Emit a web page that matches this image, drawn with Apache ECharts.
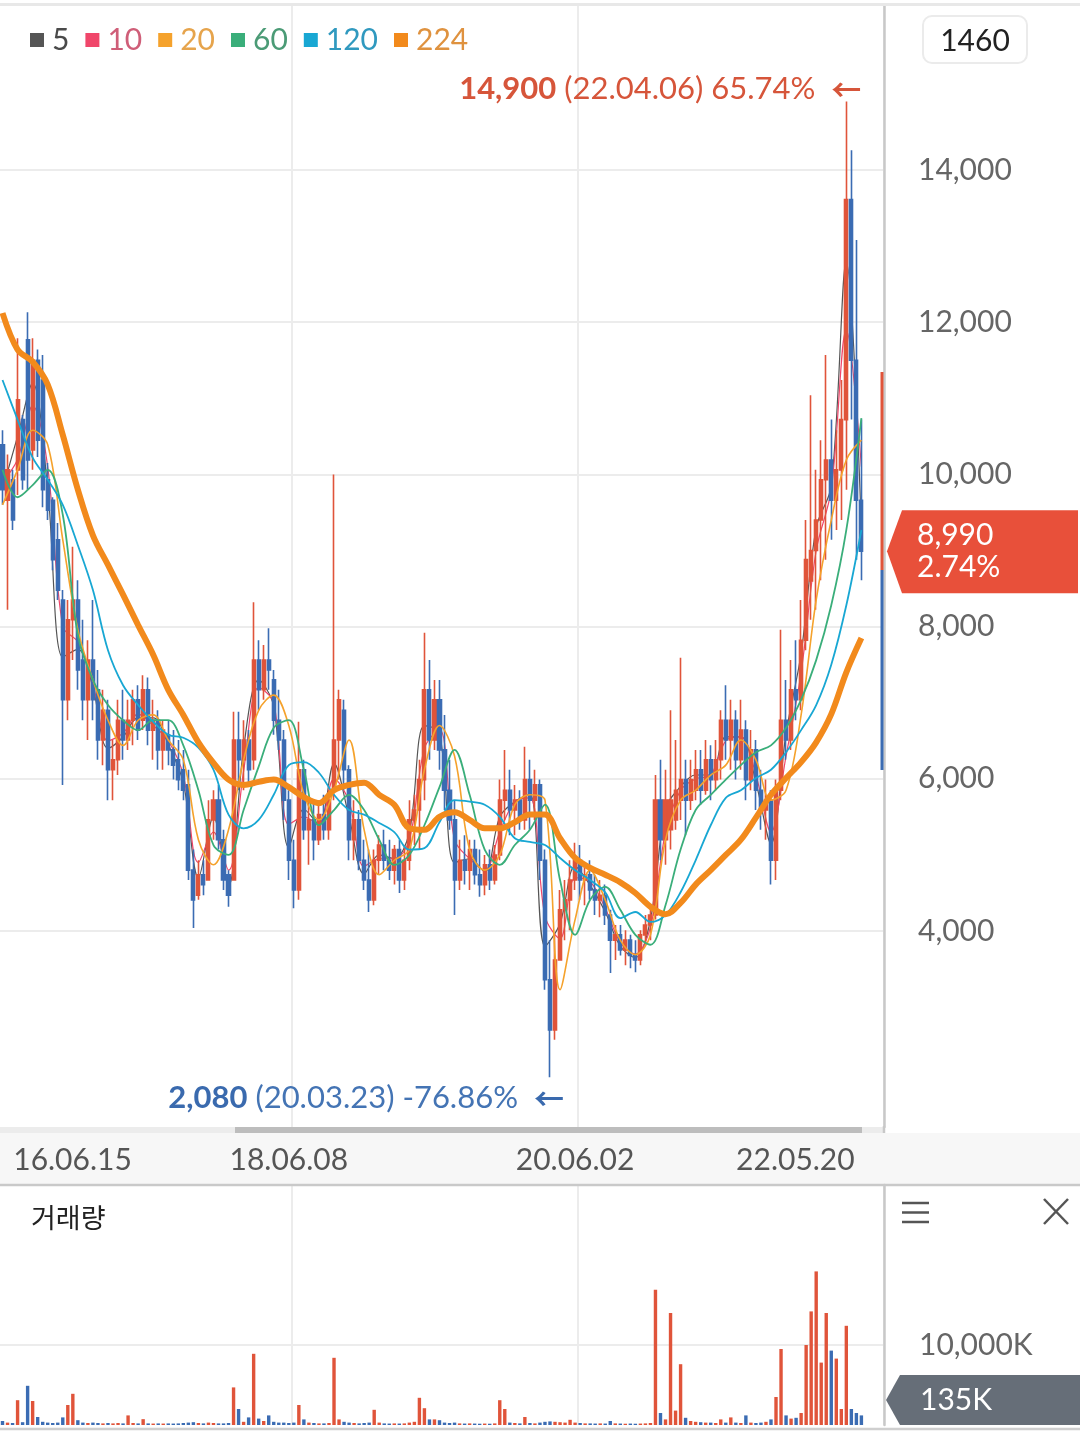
<!DOCTYPE html>
<html>
<head>
<meta charset="utf-8">
<title>주가 차트</title>
<script src="https://cdn.jsdelivr.net/npm/echarts@6/dist/echarts.min.js"></script>
<style>
    html, body { margin: 0; padding: 0; background: #fff; }
    #priceChartDiv { width: 1080px; height: 1433px; }
</style>
</head>
<body>
<div id="priceChartDiv"></div>
<script>

/* 봉 데이터 (시가 / 종가 / 저가 / 고가) */
var opens = [
    10390, 9660, 9930, 10060, 10720, 11770, 10320, 11500, 11240, 9930,
    9660, 9140, 8350, 7040, 8090, 8350, 7560, 7040, 7560, 7170,
    6510, 6900, 6120, 6250, 6770, 6510, 6770, 7040, 6770, 7170,
    6640, 6770, 6380, 6580, 6380, 6250, 6120, 5920, 4800, 4470,
    4740, 4670, 5460, 5720, 5200, 4740, 4670, 6510, 6250, 6510,
    6250, 7560, 7170, 7560, 7300, 6770, 6510, 5720, 4930, 4540,
    6120, 5330, 5460, 5200, 5530, 5330, 5850, 6510, 6900, 6120,
    5200, 5460, 4930, 4670, 4410, 4930, 5130, 4930, 4800, 5070,
    4670, 4930, 5460, 5590, 5990, 7170, 6510, 7040, 6380, 5850,
    5460, 4670, 4930, 4800, 5070, 4740, 4610, 4870, 4670, 5000,
    5720, 5850, 5590, 5720, 5460, 5990, 5720, 5920, 4930, 3360,
    2700, 3620, 4280, 4410, 4670, 4930, 4670, 4740, 4540, 4410,
    4470, 4210, 3880, 3950, 3750, 3880, 3680, 3620, 3950, 4080,
    4210, 5720, 5200, 5330, 5460, 5720, 5990, 5720, 5850, 6120,
    5850, 6250, 5990, 6250, 6770, 6510, 6770, 6250, 6640, 5990,
    6380, 5850, 5590, 5720, 4930, 5850, 6770, 6510, 7170, 7040,
    7820, 8600, 9000, 9400, 9930, 10190, 9660, 10060, 10720, 13610,
    11500, 9660
];
var closes = [
    9800, 10060, 9400, 10980, 9930, 10190, 11500, 10450, 9800, 9530,
    8880, 8480, 7040, 8090, 8350, 7430, 7040, 7560, 7040, 6510,
    6900, 6120, 6250, 6770, 6510, 6770, 7040, 6640, 7170, 6640,
    6770, 6380, 6640, 6380, 6180, 5990, 5850, 4800, 4410, 4740,
    4610, 5460, 5720, 5200, 4670, 4470, 6510, 6250, 6510, 6120,
    7560, 7170, 7560, 7430, 6770, 6510, 5720, 4930, 4540, 6120,
    5330, 5460, 5200, 5530, 5330, 5720, 6510, 7040, 6120, 5200,
    5460, 4930, 4670, 4410, 4930, 5130, 4930, 4800, 5070, 4670,
    4930, 5460, 5590, 5990, 7170, 6510, 7040, 6380, 5850, 5460,
    4670, 4930, 4800, 5070, 4740, 4610, 4870, 4670, 5000, 5720,
    5850, 5590, 5720, 5460, 5990, 5720, 5920, 4930, 3360, 2700,
    3620, 4280, 4410, 4670, 4930, 4670, 4740, 4540, 4410, 4470,
    4210, 3880, 3950, 3750, 3880, 3680, 3620, 3950, 4080, 4210,
    5720, 5200, 5720, 5720, 5850, 5990, 5720, 5990, 6120, 5850,
    6250, 5990, 6250, 6770, 6510, 6770, 6250, 6640, 5990, 6380,
    5850, 5590, 5720, 4930, 5850, 6770, 6510, 7170, 7040, 7820,
    8880, 9000, 9400, 9930, 10190, 9660, 10060, 10720, 13610, 11500,
    9660, 8990
];
var lows = [
    9600, 8220, 9270, 9730, 9800, 9800, 10060, 10230, 9570, 9400,
    8740, 8350, 5920, 6770, 7560, 7170, 6770, 6510, 6770, 6250,
    6180, 5720, 5720, 6050, 6250, 6380, 6440, 6510, 6640, 6440,
    6250, 6120, 6120, 6180, 5990, 5850, 5720, 4670, 4040, 4410,
    4470, 4670, 5200, 5070, 4540, 4320, 4670, 5850, 5850, 5920,
    6120, 6900, 7040, 7170, 6580, 6380, 5460, 4670, 4300, 4410,
    5200, 4870, 4930, 5130, 5200, 5200, 5720, 5990, 5850, 4930,
    4930, 4800, 4540, 4250, 4340, 4740, 4800, 4670, 4610, 4500,
    4540, 4800, 5130, 5070, 5720, 6250, 6380, 6120, 5590, 5330,
    4210, 4540, 4610, 4540, 4610, 4450, 4470, 4540, 4610, 4930,
    5460, 5260, 5260, 5330, 5330, 5330, 5460, 4670, 3230, 2080,
    2570, 3620, 3880, 4010, 4540, 4410, 4340, 4410, 4210, 4180,
    4080, 3450, 3620, 3680, 3550, 3510, 3460, 3550, 3820, 3880,
    4150, 4930, 4870, 5070, 5330, 5460, 5260, 5590, 5720, 5660,
    5790, 5720, 5850, 5990, 6250, 6120, 5990, 6120, 5720, 5850,
    5590, 5330, 5200, 4610, 4670, 5720, 6250, 6380, 6770, 6900,
    7690, 8090, 8220, 8610, 8880, 9140, 9270, 9400, 9800, 10720,
    8880, 8610
];
var highs = [
    10580, 10260, 10060, 11790, 10780, 12130, 11790, 11640, 11570, 10150,
    9700, 9360, 8480, 8350, 9050, 8610, 8090, 7820, 8350, 7430,
    7170, 7040, 6510, 7040, 7170, 7040, 7170, 7230, 7360, 7330,
    7040, 6900, 6770, 6770, 6640, 6510, 6380, 6120, 5070, 4930,
    4930, 5720, 5850, 5920, 5330, 4800, 6880, 6880, 6770, 6640,
    8320, 7820, 7760, 7980, 7430, 7170, 6640, 5850, 5200, 6750,
    6250, 5720, 5720, 5720, 5790, 5850, 10000, 7170, 7040, 6180,
    5720, 5590, 5200, 5070, 5070, 5260, 5330, 5200, 5130, 5200,
    5130, 5720, 5790, 6250, 7920, 7560, 7300, 7300, 6840, 6250,
    5720, 5200, 5260, 5200, 5200, 5070, 5000, 5070, 5130, 5990,
    6380, 6120, 5920, 5850, 6420, 6250, 6120, 5990, 5070, 3880,
    3950, 4540, 4670, 4930, 5160, 5130, 4870, 4930, 4740, 4670,
    4610, 4280, 4080, 4080, 4010, 3950, 3880, 4010, 4210, 4340,
    6050, 6250, 6120, 6900, 6510, 7590, 6250, 6250, 6380, 6380,
    6510, 6440, 6510, 6900, 7230, 7040, 6900, 7040, 6770, 6640,
    6510, 6120, 5990, 5850, 5990, 7960, 7300, 7560, 7820, 8350,
    9400, 11040, 10060, 10450, 11570, 10720, 10580, 11240, 14900, 14260,
    13080, 10720
];

/* 거래량 (K) */
var volumes = [
    500, 300, 250, 3100, 350, 4900, 3000, 1000, 400, 300,
    250, 300, 950, 2500, 3900, 600, 300, 250, 300, 250,
    200, 250, 200, 250, 200, 1200, 250, 200, 730, 200,
    180, 200, 180, 200, 180, 200, 250, 300, 350, 250,
    200, 300, 250, 200, 200, 250, 4700, 2000, 400, 950,
    8900, 800, 500, 1200, 400, 300, 300, 250, 300, 2500,
    700, 300, 250, 200, 200, 250, 8400, 700, 400, 300,
    250, 200, 250, 300, 1900, 300, 200, 180, 200, 180,
    200, 300, 400, 3400, 2100, 700, 700, 600, 300, 250,
    300, 200, 180, 200, 180, 160, 180, 160, 200, 3100,
    2000, 300, 250, 200, 1000, 250, 200, 300, 400, 450,
    400, 350, 300, 650, 300, 250, 200, 200, 180, 200,
    180, 500, 200, 180, 160, 180, 160, 180, 200, 250,
    16900, 1500, 700, 14000, 1800, 7600, 900, 500, 400, 350,
    300, 300, 250, 700, 300, 950, 300, 250, 1200, 300,
    250, 300, 400, 700, 3500, 9500, 1200, 800, 900, 1500,
    10000, 14200, 19200, 7800, 14000, 9300, 8300, 2000, 12400, 2000,
    1500, 1200
];

/* 이동평균선 - 봉 3개마다 읽은 값 */
var maStep = 3;
var ma5 = [
    9800, 10500, 11200, 9800, 7600, 7700, 7200, 6400, 6550, 6800,
    6800, 6450, 5950, 4700, 5500, 4600, 6400, 7300, 6950, 5100,
    5600, 5400, 6200, 5500, 4750, 5000, 4950, 5300, 6700, 6600,
    4900, 4950, 4780, 5500, 5700, 5800, 3800, 4100, 4850, 4600,
    4250, 3800, 3650, 4150, 5600, 5900, 6050, 6050, 6550, 6550,
    5950, 5150, 6600, 7650, 9300, 9850, 12800, 9300
];
var ma10 = [
    9900, 10200, 10900, 10100, 8000, 7800, 7250, 6500, 6600, 6850,
    6700, 6500, 6050, 4900, 5300, 4800, 6100, 7200, 7000, 5400,
    5500, 5400, 6000, 5700, 4850, 4950, 4950, 5200, 6400, 6650,
    5200, 4950, 4800, 5300, 5700, 5750, 4200, 3900, 4700, 4650,
    4300, 3850, 3700, 4050, 5300, 5850, 6000, 6050, 6500, 6550,
    6050, 5300, 6300, 7400, 9000, 9800, 11900, 10100
];
var ma20 = [
    9600, 10060, 10580, 10390, 9140, 7960, 7300, 6770, 6440, 6770,
    6840, 6510, 6250, 5200, 4870, 5330, 6250, 6900, 7100, 6700,
    5800, 5460, 5850, 6510, 5330, 4740, 4930, 5070, 6120, 6700,
    6300, 5070, 4800, 5000, 5660, 5790, 5720, 3230, 4150, 4800,
    4410, 3880, 3690, 3950, 5200, 5720, 5850, 6050, 6180, 6510,
    6250, 5720, 5850, 6840, 8350, 9400, 10190, 10450
];
var ma60 = [
    10060, 9700, 9860, 10060, 9470, 7890, 7300, 6970, 6770, 6640,
    6770, 6770, 6440, 5850, 5130, 5000, 5590, 6160, 6670, 6770,
    6120, 5390, 5590, 5790, 5590, 5200, 4870, 5000, 5390, 5890,
    6380, 5790, 5070, 4870, 5130, 5330, 5660, 4670, 3950, 4410,
    4580, 4280, 3950, 3820, 4340, 5070, 5590, 5790, 5990, 6180,
    6350, 6440, 6670, 7040, 7560, 8280, 9270, 10740
];
var ma120 = [
    11240, 10720, 10220, 9930, 9600, 9070, 8480, 7690, 7230, 6970,
    6750, 6580, 6540, 6410, 6120, 5530, 5350, 5460, 5790, 6180,
    6220, 6080, 5790, 5590, 5530, 5420, 5300, 5070, 5090, 5430,
    5720, 5700, 5660, 5500, 5220, 5170, 5130, 4960, 4800, 4670,
    4510, 4170, 4250, 4120, 4210, 4510, 4930, 5390, 5750, 5850,
    6010, 6120, 6350, 6640, 6970, 7500, 8280, 9270
];
var ma224 = [
    12120, 11640, 11480, 11180, 10520, 9800, 9200, 8810, 8420, 8020,
    7630, 7170, 6840, 6480, 6210, 5990, 5920, 5960, 5990, 5890,
    5760, 5680, 5850, 5920, 5950, 5790, 5660, 5350, 5330, 5500,
    5560, 5460, 5350, 5350, 5430, 5530, 5530, 5220, 4960, 4830,
    4740, 4640, 4500, 4320, 4220, 4370, 4610, 4800, 5000, 5200,
    5490, 5790, 6010, 6220, 6480, 6850, 7400, 7850
];

var maNames = ['5', '10', '20', '60', '120', '224'];
var tickIndex = [0, 57, 114, 170];
var tickLabels = ['16.06.15', '18.06.08', '20.06.02', '22.05.20'];
var gridIndex = [58, 115];
var priceTicks = [4000, 6000, 8000, 10000, 12000, 14000];
var volumeTicks = [10000];
var maxDate = '22.04.06';
var minDate = '20.03.23';
var lastChange = '2.74%';
var lastVolume = '135K';
var candleCount = '1460';
var padCount = 4;

var upColor = '#e0543a';
var downColor = '#3b6cb3';
var maColors = ['#555555', '#f0466a', '#f5a22c', '#3aae7a', '#18a7d3', '#f28a1c'];
var maTextColors = ['#4a4a4a', '#cf5e78', '#e6a44c', '#4b9b76', '#3099bf', '#df923f'];
var maWidths = [1.2, 1.2, 1.6, 1.8, 1.8, 6];
var maZ = [1, 1, 3, 3, 3, 4];

function fmt(n) {
    return String(n).replace(/\B(?=(\d{3})+(?!\d))/g, ',');
}

function markRich(color, lightColor) {
    return {
        b: {fontSize: 31, fontWeight: 'bold', color: color, fontFamily: 'Lato'},
        n: {fontSize: 31, color: lightColor, fontFamily: 'Lato'},
        a: {fontSize: 30, fontWeight: 'bold', color: color, fontFamily: '"Noto Sans CJK KR"', padding: [0, 0, 0, 16]}
    };
}

function loadPriceChart() {
    var chart = echarts.init(document.getElementById('priceChartDiv'));

    var cats = [];
    for (var i = 0; i < closes.length + padCount; i++) {
        cats.push(i);
    }

    var candles = [];
    var volumeData = [];
    for (var j = 0; j < closes.length; j++) {
        candles.push([opens[j], closes[j], lows[j], highs[j]]);
        volumeData.push({
            value: volumes[j],
            itemStyle: {color: closes[j] >= opens[j] ? upColor : downColor}
        });
    }

    var lastClose = closes[closes.length - 1];
    var maxHigh = Math.max.apply(null, highs);
    var minLow = Math.min.apply(null, lows);
    var maxIdx = highs.indexOf(maxHigh);
    var minIdx = lows.indexOf(minLow);
    function pct(v) {
        return ((v / lastClose - 1) * 100).toFixed(2) + '%';
    }

    var maLists = [ma5, ma10, ma20, ma60, ma120, ma224];
    var maSeries = maLists.map(function (list, k) {
        return {
            name: maNames[k],
            type: 'line',
            xAxisIndex: 0,
            yAxisIndex: 0,
            data: list.map(function (v, n) { return [n * maStep, v]; }),
            symbol: 'none',
            smooth: 0.35,
            z: maZ[k],
            lineStyle: {color: maColors[k], width: maWidths[k]},
            itemStyle: {color: maColors[k]},
            silent: true
        };
    });

    var xLabelRich = {
        first: {padding: [0, 0, 0, 140]},
        last: {padding: [0, 122, 0, 0]},
        mid: {}
    };

    var option = {
        animation: false,
        backgroundColor: '#fff',
        textStyle: {fontFamily: 'Lato'},
        legend: {
            left: 30,
            top: 25,
            padding: 0,
            icon: 'rect',
            itemWidth: 14,
            itemHeight: 14,
            itemGap: 16,
            selectedMode: false,
            textStyle: {fontSize: 30, fontFamily: 'Lato', padding: [0, 0, 0, 3]},
            data: maNames.map(function (n, k) {
                return {name: n, itemStyle: {color: maColors[k]}, textStyle: {color: maTextColors[k]}};
            })
        },
        grid: [
            {left: 0, top: 5, width: 884, height: 1122},
            {left: 0, top: 1185, width: 884, height: 240}
        ],
        xAxis: [
            {
                type: 'category',
                gridIndex: 0,
                data: cats,
                boundaryGap: true,
                axisLine: {show: false},
                axisTick: {show: false},
                axisLabel: {
                    interval: function (index) { return tickIndex.indexOf(index) >= 0; },
                    margin: 18,
                    fontSize: 30,
                    color: '#555',
                    fontFamily: 'Lato',
                    formatter: function (value, index) {
                        var p = tickIndex.indexOf(index);
                        if (p < 0) return '';
                        var style = p === 0 ? 'first' : (p === tickIndex.length - 1 ? 'last' : 'mid');
                        return '{' + style + '|' + tickLabels[p] + '}';
                    },
                    rich: xLabelRich
                },
                splitLine: {
                    show: true,
                    interval: function (index) { return gridIndex.indexOf(index) >= 0; },
                    lineStyle: {color: '#ececec', width: 2}
                }
            },
            {
                type: 'category',
                gridIndex: 1,
                data: cats,
                boundaryGap: true,
                axisLine: {show: false},
                axisTick: {show: false},
                axisLabel: {show: false},
                splitLine: {
                    show: true,
                    interval: function (index) { return gridIndex.indexOf(index) >= 0; },
                    lineStyle: {color: '#ececec', width: 2}
                }
            }
        ],
        yAxis: [
            {
                type: 'value',
                gridIndex: 0,
                position: 'right',
                min: 1425,
                max: 16168,
                axisLine: {show: true, lineStyle: {color: '#c8c8c8', width: 2.5}},
                axisTick: {show: false, customValues: priceTicks},
                axisLabel: {
                    customValues: priceTicks,
                    margin: 34,
                    align: 'left',
                    fontSize: 30,
                    color: '#666',
                    fontFamily: 'Lato',
                    formatter: function (v) { return fmt(v); }
                },
                splitLine: {show: true, lineStyle: {color: '#ececec', width: 2}}
            },
            {
                type: 'value',
                gridIndex: 1,
                position: 'right',
                min: 0,
                max: 30000,
                axisLine: {show: true, lineStyle: {color: '#c8c8c8', width: 2.5}},
                axisTick: {show: false, customValues: volumeTicks},
                axisLabel: {
                    customValues: volumeTicks,
                    margin: 35,
                    align: 'left',
                    fontSize: 30,
                    color: '#666',
                    fontFamily: 'Lato',
                    formatter: function (v) { return fmt(v) + 'K'; }
                },
                splitLine: {show: true, lineStyle: {color: '#ececec', width: 2}}
            }
        ],
        series: [
            {
                name: 'price',
                type: 'candlestick',
                xAxisIndex: 0,
                yAxisIndex: 0,
                data: candles,
                barWidth: 3.6,
                z: 2,
                itemStyle: {
                    color: upColor,
                    color0: downColor,
                    borderColor: upColor,
                    borderColor0: downColor,
                    borderWidth: 1.6
                },
                markPoint: {
                    symbol: 'circle',
                    symbolSize: 1,
                    itemStyle: {color: 'rgba(0,0,0,0)'},
                    label: {show: true, position: 'inside', align: 'right', verticalAlign: 'middle'},
                    data: [
                        {
                            coord: [maxIdx, maxHigh],
                            label: {
                                offset: [15, -12],
                                formatter: '{b|' + fmt(maxHigh) + '}{n| (' + maxDate + ') ' + pct(maxHigh) + '}{a|←}',
                                rich: markRich('#d6553a', '#d6553a')
                            }
                        },
                        {
                            coord: [minIdx, minLow],
                            label: {
                                offset: [14, 21],
                                formatter: '{b|' + fmt(minLow) + '}{n| (' + minDate + ') ' + pct(minLow) + '}{a|←}',
                                rich: markRich('#3a6aae', '#4474b4')
                            }
                        }
                    ]
                }
            },
            {
                name: 'volume',
                type: 'bar',
                xAxisIndex: 1,
                yAxisIndex: 1,
                data: volumeData,
                barWidth: 3.4,
                silent: true
            }
        ].concat(maSeries)
    };

    chart.setOption(option);

    /* 현재가 태그 위치 */
    var tagY = chart.convertToPixel({yAxisIndex: 0}, lastClose);

    var graphics = [
        {type: 'rect', z: -1, shape: {x: 0, y: 1133, width: 1080, height: 52}, style: {fill: '#f7f7f7'}},
        {type: 'rect', z: 5, shape: {x: 0, y: 1127, width: 884, height: 6}, style: {fill: '#ececec'}},
        {type: 'rect', z: 5, shape: {x: 235, y: 1127, width: 627, height: 6}, style: {fill: '#bdbdbd'}},
        {type: 'line', z: 5, shape: {x1: 884, y1: 1126, x2: 884, y2: 1133}, style: {stroke: '#c8c8c8', lineWidth: 2.5}},
        {type: 'line', z: 5, shape: {x1: 0, y1: 4.5, x2: 1080, y2: 4.5}, style: {stroke: '#e8e8e8', lineWidth: 3}},
        {type: 'line', z: 5, shape: {x1: 0, y1: 1185, x2: 1080, y2: 1185}, style: {stroke: '#c9c9c9', lineWidth: 2.5}},
        {type: 'line', z: 5, shape: {x1: 0, y1: 1429, x2: 1080, y2: 1429}, style: {stroke: '#cfcfcf', lineWidth: 2.5}},
        /* 우측 세로 막대 */
        {type: 'rect', z: 6, shape: {x: 880.5, y: 372, width: 3, height: 198}, style: {fill: upColor}},
        {type: 'rect', z: 6, shape: {x: 880.5, y: 570, width: 3, height: 200}, style: {fill: downColor}},
        /* 봉 개수 박스 */
        {type: 'rect', z: 5, shape: {x: 923, y: 16, width: 104, height: 47, r: 9}, style: {fill: '#fff', stroke: '#ebebeb', lineWidth: 2}},
        {type: 'text', z: 6, style: {text: candleCount, x: 975, y: 41, font: '30px Lato', fill: '#222', align: 'center', verticalAlign: 'middle', textAlign: 'center', textVerticalAlign: 'middle'}},
        /* 거래량 패널 */
        {type: 'text', z: 6, style: {text: '거래량', x: 31, y: 1218, font: '27px "Noto Sans CJK KR"', fill: '#222', verticalAlign: 'middle', textVerticalAlign: 'middle'}},
        {type: 'line', z: 6, shape: {x1: 902, y1: 1203, x2: 929, y2: 1203}, style: {stroke: '#555', lineWidth: 2.5}},
        {type: 'line', z: 6, shape: {x1: 902, y1: 1212.5, x2: 929, y2: 1212.5}, style: {stroke: '#555', lineWidth: 2.5}},
        {type: 'line', z: 6, shape: {x1: 902, y1: 1222, x2: 929, y2: 1222}, style: {stroke: '#555', lineWidth: 2.5}},
        {type: 'line', z: 6, shape: {x1: 1044, y1: 1199, x2: 1068, y2: 1224}, style: {stroke: '#555', lineWidth: 2.5}},
        {type: 'line', z: 6, shape: {x1: 1068, y1: 1199, x2: 1044, y2: 1224}, style: {stroke: '#555', lineWidth: 2.5}},
        {type: 'polygon', z: 6, shape: {points: [[886, 1400], [900, 1375], [1080, 1375], [1080, 1425], [900, 1425]]}, style: {fill: '#666e78'}},
        {type: 'text', z: 7, style: {text: lastVolume, x: 920, y: 1400, font: '30px Lato', fill: '#fff', verticalAlign: 'middle', textVerticalAlign: 'middle'}},
        /* 현재가 태그 */
        {type: 'polygon', z: 10, shape: {points: [[887, tagY], [902, tagY - 41], [1078, tagY - 41], [1078, tagY + 42], [902, tagY + 42]]}, style: {fill: '#e8503a'}},
        {type: 'text', z: 11, style: {text: fmt(lastClose), x: 917, y: tagY - 16, font: '30px Lato', fill: '#fff', verticalAlign: 'middle', textVerticalAlign: 'middle'}},
        {type: 'text', z: 11, style: {text: lastChange, x: 917, y: tagY + 16, font: '30px Lato', fill: '#fff', verticalAlign: 'middle', textVerticalAlign: 'middle'}}
    ];

    chart.setOption({graphic: graphics});
}

loadPriceChart();
</script>
</body>
</html>
